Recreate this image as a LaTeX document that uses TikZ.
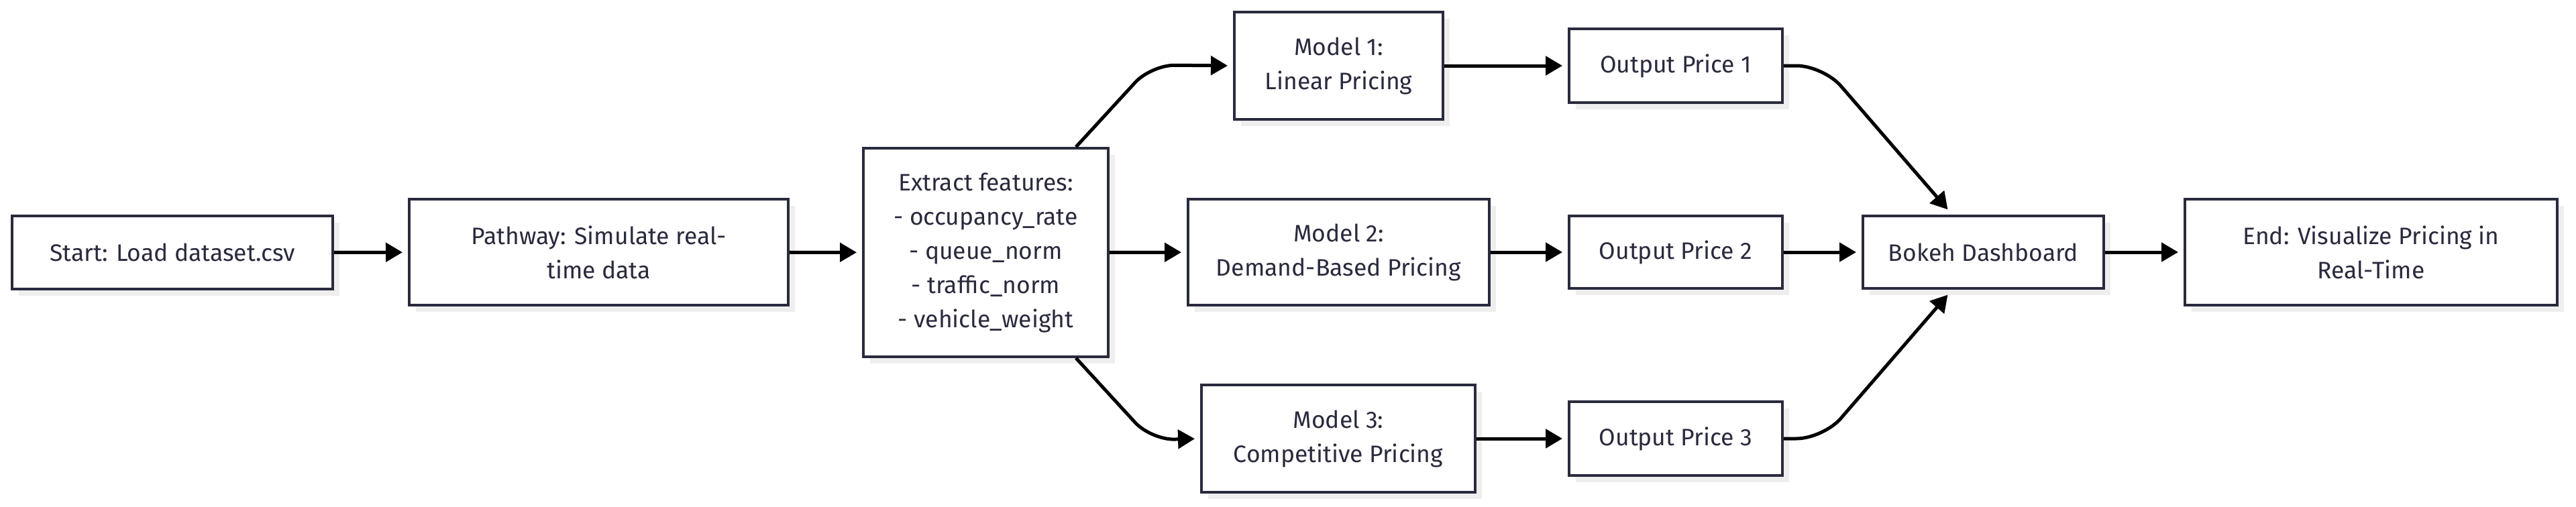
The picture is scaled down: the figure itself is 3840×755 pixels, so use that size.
\documentclass[tikz,border=0pt]{standalone}
\usepackage{fontspec}
\setmainfont{Fira Sans}
\usetikzlibrary{arrows.meta,shadows}
\definecolor{boxline}{HTML}{2A2A3E}
\definecolor{boxtext}{HTML}{2A2A3E}
\definecolor{shadowgray}{HTML}{EEEEEE}
\begin{document}
\begin{tikzpicture}[x=1pt,y=-1pt,
  box/.style={draw=boxline, line width=4pt, fill=white, text=boxtext,
    align=center, inner sep=0pt, font=\fontsize{35.5}{51}\selectfont,
    drop shadow={shadow xshift=10pt, shadow yshift=-10pt, fill=shadowgray, opacity=1}},
  arr/.style={draw=black, line width=5pt, -{Triangle[length=25pt,width=28pt]}, shorten >=8pt}
]
\useasboundingbox (0,0) rectangle (3840,755);

\node[box, minimum width=478pt, minimum height=109pt] (start) at (257,376.5) {Start: Load dataset.csv};
\node[box, minimum width=565pt, minimum height=158pt] (path) at (892.5,376) {Pathway: Simulate real-\\time data};
\node[box, minimum width=365pt, minimum height=311pt] (extract) at (1469.5,376.5) {Extract features:\\- occupancy\_rate\\- queue\_norm\\- traffic\_norm\\- vehicle\_weight};
\node[box, minimum width=311pt, minimum height=160pt] (m1) at (1995.5,98) {Model 1:\\Linear Pricing};
\node[box, minimum width=449pt, minimum height=158pt] (m2) at (1995.5,376) {Model 2:\\Demand-Based Pricing};
\node[box, minimum width=408pt, minimum height=160pt] (m3) at (1995,654) {Model 3:\\Competitive Pricing};
\node[box, minimum width=318pt, minimum height=110pt] (o1) at (2498,98) {Output Price 1};
\node[box, minimum width=318pt, minimum height=108pt] (o2) at (2498,376) {Output Price 2};
\node[box, minimum width=318pt, minimum height=110pt] (o3) at (2498,654) {Output Price 3};
\node[box, minimum width=359pt, minimum height=108pt] (bokeh) at (2956.5,376) {Bokeh Dashboard};
\node[box, minimum width=555pt, minimum height=158pt] (end) at (3534.5,376) {End: Visualize Pricing in\\Real-Time};

\draw[arr] (start) -- (path);
\draw[arr] (path) -- (extract);
\draw[arr] (extract) -- (m2);
\draw[arr, rounded corners=35pt] ([xshift=134.5pt]extract.north) -- ++(112,-122) -- (m1.west);
\draw[arr, rounded corners=35pt] ([xshift=134.5pt]extract.south) -- ++(112,122) -- (m3.west);
\draw[arr] (m1) -- (o1);
\draw[arr] (m2) -- (o2);
\draw[arr] (m3) -- (o3);
\draw[arr] (o2) -- (bokeh);
\draw[arr, rounded corners=40pt, shorten >=10pt] (o1.east) -- ++(59,0) -- ([xshift=-46.5pt]bokeh.north);
\draw[arr, rounded corners=40pt, shorten >=10pt] (o3.east) -- ++(59,0) -- ([xshift=-46.5pt]bokeh.south);
\draw[arr] (bokeh) -- (end);
\end{tikzpicture}
\end{document}
